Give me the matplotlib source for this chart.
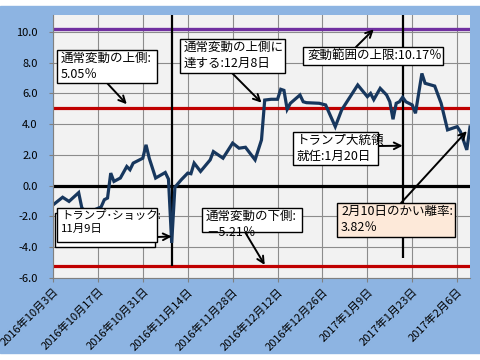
import matplotlib
matplotlib.use("Agg")
import matplotlib.pyplot as plt
from matplotlib.patches import Rectangle
import pandas as pd

plt.rcParams['font.family'] = ['Noto Sans CJK JP', 'DejaVu Sans']

#======================Data==========================

dates = [
    "2016-10-03", "2016-10-06", "2016-10-08", "2016-10-11", "2016-10-12", "2016-10-14",
    "2016-10-16", "2016-10-18", "2016-10-19", "2016-10-20", "2016-10-21", "2016-10-22",
    "2016-10-24", "2016-10-26", "2016-10-27", "2016-10-28", "2016-10-31", "2016-11-01",
    "2016-11-02", "2016-11-04", "2016-11-07", "2016-11-08", "2016-11-09", "2016-11-10",
    "2016-11-12", "2016-11-14", "2016-11-15", "2016-11-16", "2016-11-18", "2016-11-21",
    "2016-11-22", "2016-11-25", "2016-11-28", "2016-11-30", "2016-12-02", "2016-12-05",
    "2016-12-07", "2016-12-08", "2016-12-10", "2016-12-12", "2016-12-13", "2016-12-14",
    "2016-12-15", "2016-12-16", "2016-12-19", "2016-12-20", "2016-12-21", "2016-12-25",
    "2016-12-27", "2016-12-30", "2017-01-01", "2017-01-06", "2017-01-09", "2017-01-10",
    "2017-01-11", "2017-01-13", "2017-01-15", "2017-01-16", "2017-01-17", "2017-01-18",
    "2017-01-19", "2017-01-20", "2017-01-21", "2017-01-23", "2017-01-24", "2017-01-26",
    "2017-01-27", "2017-01-30", "2017-02-01", "2017-02-03", "2017-02-06", "2017-02-07",
    "2017-02-09", "2017-02-10",
]
kairi = [
    -1.25, -0.75, -1.02, -0.45, -1.45, -1.8,
    -1.56, -1.38, -0.91, -0.8, 0.82, 0.28,
    0.5, 1.25, 1.04, 1.47, 1.79, 2.66,
    1.79, 0.5, 0.86, 0.43, -3.72, -0.1,
    0.39, 0.82, 0.78, 1.47, 0.93, 1.68,
    2.22, 1.79, 2.77, 2.44, 2.5, 1.68,
    2.98, 5.57, 5.62, 5.62, 6.27, 6.2,
    4.97, 5.36, 5.9, 5.46, 5.4, 5.36,
    5.25, 3.84, 4.93, 6.55, 5.79, 6.0,
    5.6, 6.33, 5.9, 5.46, 4.32, 5.36,
    5.46, 5.75, 5.46, 5.25, 4.71, 7.3,
    6.66, 6.48, 5.36, 3.63, 3.84, 3.52,
    2.33, 3.82,
]

upper_normal = 5.05
lower_normal = -5.21
upper_limit = 10.17
shock_date = "2016-11-09"
inaug_date = "2017-01-20"

tick_dates = ["2016-10-03", "2016-10-17", "2016-10-31", "2016-11-14", "2016-11-28",
              "2016-12-12", "2016-12-26", "2017-01-09", "2017-01-23", "2017-02-06"]
tick_labels = ["2016年10月3日", "2016年10月17日", "2016年10月31日", "2016年11月14日",
               "2016年11月28日", "2016年12月12日", "2016年12月26日", "2017年1月9日",
               "2017年1月23日", "2017年2月6日"]
y_ticks = [-6, -4, -2, 0, 2, 4, 6, 8, 10]

#======================Figure==========================

W, H = 480, 360
fig = plt.figure(figsize=(4.8, 3.6), dpi=100)
fig.patches.append(Rectangle((0, 7 / H), 1, 347 / H, transform=fig.transFigure,
                             color='#8DB4E2', zorder=-10))

ax = fig.add_axes([53 / W, 82 / H, 417 / W, 263 / H])
ax.set_facecolor('#F2F2F2')

x = pd.to_datetime(dates)
xt = pd.to_datetime(tick_dates)

ax.set_xlim(pd.Timestamp("2016-10-03"), pd.Timestamp("2017-02-10"))
ax.set_ylim(-6, 11.1)

ax.set_xticks(xt)
ax.set_xticklabels(tick_labels, rotation=45, ha='right', va='top',
                   rotation_mode='anchor', fontsize=8)
ax.set_yticks(y_ticks)
ax.set_yticklabels([f"{v:.1f}" for v in y_ticks], fontsize=8)
ax.tick_params(axis='y', length=3, pad=8, color='#808080')
ax.tick_params(axis='x', length=3, pad=3, color='#808080')
ax.grid(True, color='#8C8C8C', lw=0.8)
ax.set_axisbelow(True)
for s in ['top', 'right']:
    ax.spines[s].set_visible(False)
for s in ['left', 'bottom']:
    ax.spines[s].set_color('#808080')

# reference lines
ax.axhline(upper_limit, color='#7030A0', lw=2.4)
ax.axhline(upper_normal, color='#C00000', lw=2.3)
ax.axhline(lower_normal, color='#C00000', lw=2.3)
ax.axhline(0, color='black', lw=2.3)
ax.vlines(pd.Timestamp(shock_date), lower_normal, 11.1, color='black', lw=1.6)
ax.vlines(pd.Timestamp(inaug_date), -4.7, 11.1, color='black', lw=1.6)

ax.plot(x, kairi, color='#17375E', lw=2.3, solid_joinstyle='miter')

#======================Annotations==========================

def label_box(x0, y0, x1, y1, text, face='white', z=5, size=9):
    # box given in image pixels (y from top)
    fig.patches.append(Rectangle((x0 / W, 1 - y1 / H), (x1 - x0) / W, (y1 - y0) / H,
                                 transform=fig.transFigure, facecolor=face,
                                 edgecolor='black', lw=1.0, zorder=z))
    if text:
        fig.text((x0 + 4) / W, 1 - (y0 + 2) / H, text, ha='left', va='top',
                 fontsize=size, linespacing=1.3, zorder=z + 0.5)

def arrow(px, py, tx, tv):
    ax.annotate('', xy=(pd.Timestamp(tx), tv), xycoords='data',
                xytext=(px, H - py), textcoords='figure pixels',
                arrowprops=dict(arrowstyle='->', lw=1.4, color='black',
                                shrinkA=0, shrinkB=0, mutation_scale=12))

label_box(57, 50, 157, 83, "通常変動の上側:\n5.05％")
arrow(107, 83, "2016-10-26", 5.3)

label_box(180, 39, 285, 73, "通常変動の上側に\n達する:12月8日")
arrow(232, 73, "2016-12-07", 5.4)

label_box(303, 47, 443, 65, "変動範囲の上限:10.17％")
arrow(356, 47, "2017-01-11", upper_limit)

label_box(293, 132, 378, 165, "トランプ大統領\n就任:1月20日")
arrow(379, 146, inaug_date, 2.6)

label_box(55, 213, 155, 247, "", z=5)
label_box(57, 208, 157, 242, "トランプ･ショック:\n11月9日", z=7, size=8.2)
arrow(157, 237, shock_date, -3.3)

label_box(202, 208, 302, 232, "通常変動の下側:\n－5.21％")
arrow(245, 232, "2016-12-08", -5.15)

label_box(337, 203, 455, 237, "2月10日のかい離率:\n3.82％", face='#FDE9D9')
arrow(401, 203, "2017-02-09", 3.55)

fig.savefig("out.png", dpi=100)
